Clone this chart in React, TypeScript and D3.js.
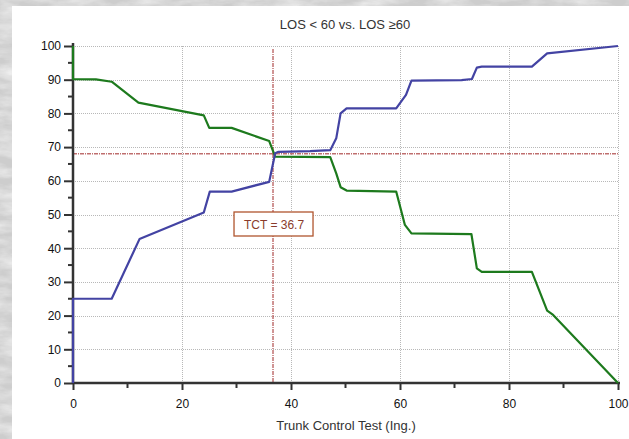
import { useEffect, useRef } from "react";
import * as d3 from "d3";

// LOS >= 60 (blue, rising) and LOS < 60 (green, falling)
const blueX = [0, 0, 7.1, 12.2, 24.0, 25.1, 29.1, 36.0, 37.1, 37.7, 43.5, 47.2, 48.3, 49.1, 50.2, 59.3, 61.1, 62.1, 71.3, 73.2, 74.1, 75.0, 84.2, 87.0, 100];
const blueY = [0, 25, 25, 42.7, 50.6, 56.8, 56.8, 59.7, 68.2, 68.6, 68.8, 69.1, 72.6, 80.0, 81.5, 81.5, 85.5, 89.7, 89.9, 90.2, 93.6, 93.9, 93.9, 97.8, 100];
const greenX = [0, 0, 4.2, 7.1, 12.0, 24.0, 25.0, 29.1, 36.0, 37.1, 47.2, 48.3, 49.1, 50.2, 59.3, 60.9, 62.1, 73.1, 74.1, 75.0, 84.2, 87.0, 88.1, 100];
const greenY = [100, 90.2, 90.1, 89.4, 83.2, 79.4, 75.7, 75.7, 71.8, 67.2, 67.0, 62.2, 58.1, 57.1, 56.8, 46.9, 44.4, 44.2, 34.0, 33.0, 33.0, 21.5, 20.2, 0];

const cutX = 36.7;
const cutY = 68;
const cutLabel = "TCT = 36.7";
const title = "LOS < 60 vs. LOS \u226560";
const xLabel = "Trunk Control Test (Ing.)";

export default function App() {
  const ref = useRef<SVGSVGElement>(null);

  useEffect(() => {
    const width = 629;
    const height = 439;
    const left = 73, right = 618, top = 46, bottom = 383;
    const font = "Liberation Sans, Arial, sans-serif";

    const svg = d3.select(ref.current);
    svg.selectAll("*").remove();

    // textured background
    const defs = svg.append("defs");
    const f = defs.append("filter").attr("id", "marble").attr("x", 0).attr("y", 0).attr("width", "100%").attr("height", "100%");
    f.append("feTurbulence").attr("type", "fractalNoise").attr("baseFrequency", "0.03 0.09").attr("numOctaves", 4).attr("seed", 3);
    f.append("feColorMatrix").attr("type", "matrix")
      .attr("values", "0 0 0 0 1  0 0 0 0 1  0 0 0 0 1  1.4 0 0 0 -0.45");
    svg.append("rect").attr("width", width).attr("height", height).attr("fill", "#cdcdcd");
    svg.append("rect").attr("width", width).attr("height", height).attr("filter", "url(#marble)").attr("opacity", 0.8);

    // white panel
    svg.append("rect").attr("x", 12).attr("y", 6).attr("width", width - 12).attr("height", height - 6).attr("fill", "#fff");

    const x = d3.scaleLinear().domain([0, 100]).range([left, right]);
    const y = d3.scaleLinear().domain([0, 100]).range([bottom, top]);

    // grid
    const grid = svg.append("g").attr("stroke", "#b8b8b8").attr("stroke-dasharray", "1,1").attr("stroke-width", 1);
    d3.range(10, 101, 10).forEach(v => {
      grid.append("line").attr("x1", left).attr("x2", right).attr("y1", Math.round(y(v)) + 0.5).attr("y2", Math.round(y(v)) + 0.5);
    });
    d3.range(20, 101, 20).forEach(v => {
      grid.append("line").attr("x1", Math.round(x(v)) + 0.5).attr("x2", Math.round(x(v)) + 0.5).attr("y1", top).attr("y2", bottom);
    });

    // cut-off lines
    svg.append("line")
      .attr("x1", x(cutX)).attr("x2", x(cutX)).attr("y1", top + 3).attr("y2", bottom)
      .attr("stroke", "#a02828").attr("stroke-width", 1).attr("stroke-dasharray", "4,1,1,1");
    svg.append("line")
      .attr("x1", left).attr("x2", right).attr("y1", y(cutY)).attr("y2", y(cutY))
      .attr("stroke", "#a02828").attr("stroke-width", 1).attr("stroke-dasharray", "4,1,1,1");

    // axes
    const yAxis = svg.append("g").attr("transform", `translate(${left},0)`)
      .call(d3.axisLeft(y).tickValues(d3.range(0, 101, 10)).tickSize(9).tickSizeOuter(0));
    yAxis.append("g").selectAll("line").data(d3.range(5, 100, 10)).join("line")
      .attr("x1", -5).attr("x2", 0).attr("y1", d => y(d)).attr("y2", d => y(d));

    const xAxis = svg.append("g").attr("transform", `translate(0,${bottom})`)
      .call(d3.axisBottom(x).tickValues(d3.range(0, 101, 20)).tickSize(7).tickSizeOuter(0));
    xAxis.append("g").selectAll("line").data(d3.range(10, 100, 20)).join("line")
      .attr("y1", 0).attr("y2", 5).attr("x1", d => x(d)).attr("x2", d => x(d));

    [yAxis, xAxis].forEach(a => {
      a.selectAll("line").attr("stroke", "#333").attr("stroke-width", 2);
      a.select(".domain").attr("stroke", "#333").attr("stroke-width", 2.5);
      a.selectAll("text").attr("fill", "#111").attr("font-size", 12).attr("font-family", font);
    });
    yAxis.select(".domain").attr("d", `M0,${top - 3}V${bottom}`);
    xAxis.select(".domain").attr("d", `M${left},0H${right + 2}`);
    yAxis.selectAll(".tick text").attr("x", -12);
    xAxis.selectAll(".tick text").attr("y", 16);

    // curves drawn over the axes
    const line = d3.line<[number, number]>().x(d => x(d[0])).y(d => y(d[1]));

    svg.append("path")
      .datum(greenX.map((v, i) => [v, greenY[i]] as [number, number]))
      .attr("fill", "none").attr("stroke", "#1d7a1d").attr("stroke-width", 2.2)
      .attr("stroke-linejoin", "round").attr("d", line);

    svg.append("path")
      .datum(blueX.map((v, i) => [v, blueY[i]] as [number, number]))
      .attr("fill", "none").attr("stroke", "#4343a3").attr("stroke-width", 2.2)
      .attr("stroke-linejoin", "round").attr("d", line);

    // label box
    const bx = x(cutX), by = 224;
    svg.append("rect").attr("x", bx - 39).attr("y", by - 12).attr("width", 79).attr("height", 24)
      .attr("fill", "#fff").attr("stroke", "#b0552e").attr("stroke-width", 1.3);
    svg.append("text").attr("x", bx + 1).attr("y", by + 4.5).attr("text-anchor", "middle")
      .attr("font-size", 12).attr("font-family", font).attr("fill", "#8a3b2c")
      .text(cutLabel);

    svg.append("text").attr("x", 345).attr("y", 29).attr("text-anchor", "middle")
      .attr("font-size", 13).attr("font-family", font).attr("fill", "#333")
      .text(title);
    svg.append("text").attr("x", 346).attr("y", 430).attr("text-anchor", "middle")
      .attr("font-size", 13).attr("font-family", font).attr("fill", "#333")
      .text(xLabel);
  }, []);

  return (
    <svg ref={ref} width={629} height={439} style={{ position: "absolute", left: 0, top: 0 }}></svg>
  );
}
